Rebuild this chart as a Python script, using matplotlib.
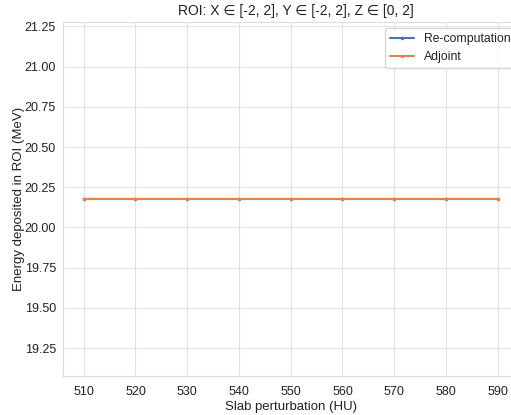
import numpy as np
import matplotlib
matplotlib.use("Agg")
import matplotlib.pyplot as plt
import seaborn as sns

sns.set_theme(style="whitegrid", palette="deep",
              rc={'grid.color': '#e3e3e3', 'grid.linewidth': 0.8,
                  'axes.edgecolor': '#dddddd', 'axes.linewidth': 0.8,
                  'text.color': '#222222', 'axes.labelcolor': '#222222',
                  'xtick.color': '#222222', 'ytick.color': '#222222'})
plt.rcParams['font.family'] = ['Liberation Sans', 'DejaVu Sans']

# slab perturbation (HU) and energy deposited in the ROI (MeV)
hu = [510, 520, 530, 540, 550, 560, 570, 580, 590]
recomputation = [20.177, 20.177, 20.177, 20.177, 20.177, 20.177, 20.177, 20.177, 20.177]
adjoint = [20.177, 20.177, 20.177, 20.177, 20.177, 20.177, 20.177, 20.177, 20.177]

fig = plt.figure(figsize=(5.11, 4.15), dpi=100)
ax = fig.add_axes([0.1233, 0.094, 0.9115, 0.853])

ax.plot(hu, recomputation, marker='.', markersize=3, linewidth=1.5, label='Re-computation')
ax.plot(hu, adjoint, marker='.', markersize=3, linewidth=1.5, label='Adjoint')

v = recomputation[0]
ax.set_ylim(v - 1.1, v + 1.1)
ax.set_xlim(506, 596)
ax.set_xticks(hu)
ax.set_yticks(np.arange(19.25, 21.26, 0.25))
ax.yaxis.set_major_formatter(matplotlib.ticker.FormatStrFormatter('%.2f'))
# ticks are hidden but their length still counts toward the label gap
ax.tick_params(axis='both', length=0)
ax.tick_params(axis='x', labelsize=9, pad=7)
ax.tick_params(axis='y', labelsize=9, pad=5)

ax.set_title('ROI: X \u2208 [-2, 2], Y \u2208 [-2, 2], Z \u2208 [0, 2]', fontsize=10, pad=5)
ax.set_xlabel('Slab perturbation (HU)', fontsize=9.5)
ax.set_ylabel('Energy deposited in ROI (MeV)', fontsize=9.5)
ax.xaxis.set_label_coords(0.49, -0.072)
ax.yaxis.set_label_coords(-0.082, 0.5)
ax.legend(loc='upper right', fontsize=8.8, bbox_to_anchor=(0.985, 1.0))

fig.savefig('out.png', dpi=100)
